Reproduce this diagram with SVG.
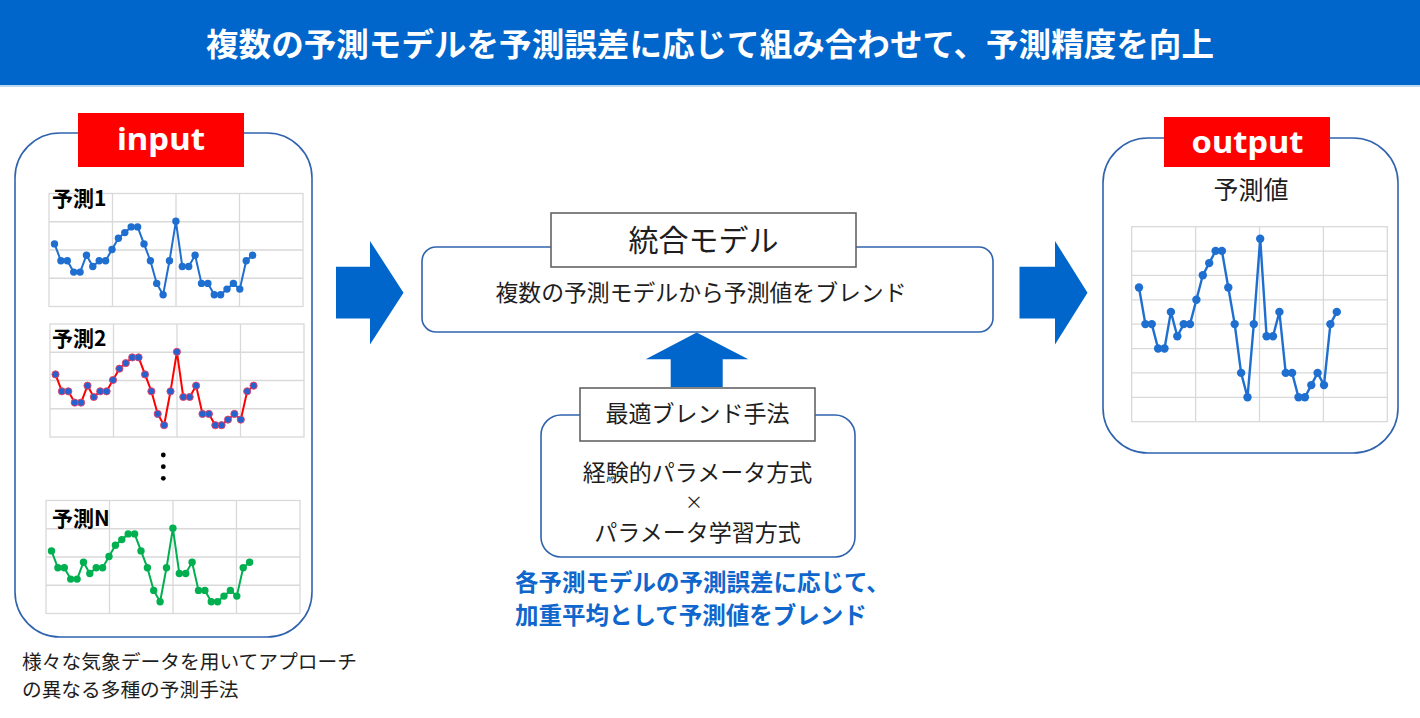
<svg xmlns="http://www.w3.org/2000/svg" xmlns:xlink="http://www.w3.org/1999/xlink" width="1420" height="718" viewBox="0 0 1420 718">
  <style>
    text { font-family: "Noto Sans CJK JP", "Noto Sans", sans-serif; }
    .hdr { fill: #ffffff; font-weight: bold; font-size: 32px; }
    .lbl { fill: #ffffff; font-weight: bold; font-size: 30px; font-family: "Noto Sans", "Noto Sans CJK JP", sans-serif; }
    .box { fill: #ffffff; stroke: #3063AE; stroke-width: 1.6; }
    .tbox { fill: #ffffff; stroke: #5a5a5a; stroke-width: 1.5; }
    .txt { fill: #1e1e1e; }
    .chartlbl { fill: #000000; font-weight: bold; font-size: 21px; }
    .blue { fill: #0F66CC; font-weight: bold; font-size: 23.5px; }
    .grid { fill: #ffffff; stroke: #D9D9D9; stroke-width: 1.3; }
    .arrow { fill: #0066CC; }
    .s1 { fill: none; stroke: #1F6FD1; stroke-width: 2; stroke-linejoin: round; marker-start: url(#mB); marker-mid: url(#mB); marker-end: url(#mB); }
    .s2 { fill: none; stroke: #FF0000; stroke-width: 2; stroke-linejoin: round; marker-start: url(#mR); marker-mid: url(#mR); marker-end: url(#mR); }
    .s3 { fill: none; stroke: #00B050; stroke-width: 2; stroke-linejoin: round; marker-start: url(#mG); marker-mid: url(#mG); marker-end: url(#mG); }
    .s4 { fill: none; stroke: #1F6FD1; stroke-width: 2.4; stroke-linejoin: round; marker-start: url(#mO); marker-mid: url(#mO); marker-end: url(#mO); }
  </style>
  <defs>
    <marker id="mB" markerWidth="9" markerHeight="9" refX="4.5" refY="4.5" markerUnits="userSpaceOnUse"><circle cx="4.5" cy="4.5" r="3.7" fill="#1F6FD1"/></marker>
    <marker id="mR" markerWidth="10" markerHeight="10" refX="5" refY="5" markerUnits="userSpaceOnUse"><circle cx="5" cy="5" r="3.6" fill="#2462D0" stroke="#F04060" stroke-width="0.9"/></marker>
    <marker id="mG" markerWidth="9" markerHeight="9" refX="4.5" refY="4.5" markerUnits="userSpaceOnUse"><circle cx="4.5" cy="4.5" r="3.7" fill="#00B050"/></marker>
    <marker id="mO" markerWidth="10" markerHeight="10" refX="5" refY="5" markerUnits="userSpaceOnUse"><circle cx="5" cy="5" r="4.2" fill="#1F6FD1"/></marker>
    <g id="gridIn">
      <rect class="grid" x="0" y="0" width="254" height="113"/>
      <path class="grid" d="M63.5 0V113M127 0V113M190.5 0V113M0 28.25H254M0 56.5H254M0 84.75H254"/>
    </g>
    <polyline id="series" points="5.5,50.4 11.9,67.3 18.3,67.3 24.7,78.6 31.1,78.6 37.5,61.7 43.8,73.0 50.2,67.3 56.6,67.3 63.0,56.0 69.4,44.7 75.8,39.1 82.2,33.4 88.6,33.4 95.0,50.4 101.4,67.3 107.7,89.9 114.1,101.2 120.5,67.3 126.9,27.8 133.3,73.0 139.7,73.0 146.1,61.7 152.5,89.9 158.9,89.9 165.3,101.2 171.6,101.2 178.0,95.6 184.4,89.9 190.8,95.6 197.2,67.3 203.6,61.7"/>
  </defs>

  <g id="header">
    <rect x="0" y="0" width="1420" height="85" fill="#0066CC"/>
    <rect x="0" y="85" width="1420" height="2" fill="#BDD7EE"/>
    <text class="hdr" x="710" y="56" text-anchor="middle" textLength="1008" lengthAdjust="spacingAndGlyphs">複数の予測モデルを予測誤差に応じて組み合わせて、予測精度を向上</text>
  </g>

  <g id="connectors">
    <polygon class="arrow" points="336,266.7 370,266.7 370,241 403.5,292.7 370,344.5 370,318.5 336,318.5"/>
    <polygon class="arrow" points="1019.5,266.7 1055,266.7 1055,241 1087.5,292.7 1055,344.5 1055,318.5 1019.5,318.5"/>
    <polygon class="arrow" points="696.7,332.5 748.3,359.3 722.7,359.3 722.7,387 670.7,387 670.7,359.3 645.7,359.3"/>
  </g>

  <g id="input">
    <rect class="box" x="15" y="133" width="297" height="504" rx="45"/>
    <rect x="78" y="113" width="166" height="54" fill="#FF0000"/>
    <text class="lbl" x="161" y="150" text-anchor="middle" textLength="88" lengthAdjust="spacingAndGlyphs">input</text>
    <g id="chart1" transform="translate(49,193.5)">
      <use xlink:href="#gridIn" href="#gridIn"/>
      <use xlink:href="#series" href="#series" class="s1"/>
    </g>
    <text class="chartlbl" x="52" y="206">予測1</text>
    <g id="chart2" transform="translate(50,324)">
      <use xlink:href="#gridIn" href="#gridIn"/>
      <use xlink:href="#series" href="#series" class="s2"/>
    </g>
    <text class="chartlbl" x="52" y="346">予測2</text>
    <g id="dots" fill="#000000">
      <circle cx="163.3" cy="455" r="2.4"/>
      <circle cx="163.3" cy="466.7" r="2.4"/>
      <circle cx="163.3" cy="478.3" r="2.4"/>
    </g>
    <g id="chartN" transform="translate(46,500.5)">
      <use xlink:href="#gridIn" href="#gridIn"/>
      <use xlink:href="#series" href="#series" class="s3"/>
    </g>
    <text class="chartlbl" x="52" y="526">予測N</text>
  </g>

  <g id="input-caption">
    <text class="txt" x="22" y="668.5" font-size="19.7" textLength="335" lengthAdjust="spacingAndGlyphs">様々な気象データを用いてアプローチ</text>
    <text class="txt" x="22" y="696.5" font-size="19.7">の異なる多種の予測手法</text>
  </g>

  <g id="integrated-model">
    <rect class="box" x="422" y="247" width="571" height="85" rx="14"/>
    <rect class="tbox" x="551" y="213" width="305" height="54"/>
    <text class="txt" x="703.5" y="251.4" font-size="30" text-anchor="middle">統合モデル</text>
    <text class="txt" x="701" y="301" font-size="22.8" text-anchor="middle" textLength="411" lengthAdjust="spacingAndGlyphs">複数の予測モデルから予測値をブレンド</text>
  </g>

  <g id="blend-method">
    <rect class="box" x="541" y="415" width="314" height="142" rx="20"/>
    <rect class="tbox" x="580" y="388" width="235" height="53"/>
    <text class="txt" x="697.5" y="422" font-size="23" text-anchor="middle">最適ブレンド手法</text>
    <text class="txt" x="697.5" y="480.5" font-size="23" text-anchor="middle">経験的パラメータ方式</text>
    <text class="txt" x="694" y="508.5" font-size="18" text-anchor="middle">×</text>
    <text class="txt" x="697.5" y="541" font-size="23" text-anchor="middle">パラメータ学習方式</text>
  </g>

  <g id="blend-note">
    <text class="blue" x="515" y="591">各予測モデルの予測誤差に応じて、</text>
    <text class="blue" x="515" y="624">加重平均として予測値をブレンド</text>
  </g>

  <g id="output">
    <rect class="box" x="1103" y="138" width="295" height="315" rx="45"/>
    <rect x="1164" y="117" width="166" height="50" fill="#FF0000"/>
    <text class="lbl" x="1247.5" y="153" text-anchor="middle" textLength="112" lengthAdjust="spacingAndGlyphs">output</text>
    <text class="txt" x="1251" y="198.5" font-size="25" text-anchor="middle">予測値</text>
    <g id="chartOut">
      <rect class="grid" x="1131.7" y="226.7" width="255.6" height="195"/>
      <path class="grid" d="M1195.6 226.7V421.7M1259.5 226.7V421.7M1323.4 226.7V421.7M1131.7 251.1H1387.3M1131.7 275.4H1387.3M1131.7 299.8H1387.3M1131.7 324.2H1387.3M1131.7 348.6H1387.3M1131.7 372.9H1387.3M1131.7 397.3H1387.3"/>
      <polyline class="s4" points="1139.0,287.5 1145.4,324.1 1151.8,324.1 1158.1,348.5 1164.5,348.5 1170.9,311.9 1177.3,336.3 1183.7,324.1 1190.0,324.1 1196.4,299.7 1202.8,275.3 1209.2,263.1 1215.6,250.9 1221.9,250.9 1228.3,287.5 1234.7,324.1 1241.1,372.9 1247.5,397.3 1253.8,324.1 1260.2,238.7 1266.6,336.3 1273.0,336.3 1279.4,311.9 1285.7,372.9 1292.1,372.9 1298.5,397.3 1304.9,397.3 1311.3,385.1 1317.6,372.9 1324.0,385.1 1330.4,324.1 1336.8,311.9"/>
    </g>
  </g>
</svg>
